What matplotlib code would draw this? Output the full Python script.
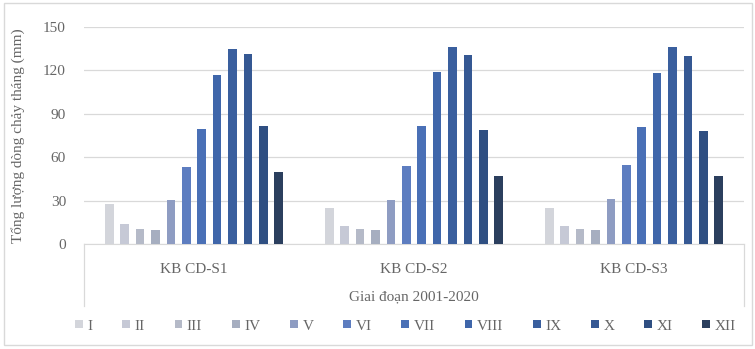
import matplotlib
matplotlib.use("Agg")
import matplotlib.pyplot as plt
from matplotlib.patches import Rectangle
import numpy as np

plt.rcParams['font.family'] = ['Liberation Serif', 'DejaVu Serif']

stations = ["KB CD-S1", "KB CD-S2", "KB CD-S3"]
months = ["I", "II", "III", "IV", "V", "VI", "VII", "VIII", "IX", "X", "XI", "XII"]
# Monthly runoff (mm) per station, one list per month
m_I = [27.7, 24.8, 24.9]
m_II = [13.6, 12.5, 12.5]
m_III = [10.2, 10.1, 10.2]
m_IV = [9.7, 9.7, 9.7]
m_V = [30.2, 30.5, 30.9]
m_VI = [53.0, 54.2, 54.5]
m_VII = [79.8, 81.5, 80.8]
m_VIII = [116.6, 118.9, 118.4]
m_IX = [134.8, 136.4, 135.9]
m_X = [131.3, 130.6, 130.0]
m_XI = [81.5, 78.7, 78.3]
m_XII = [50.0, 47.3, 47.3]
series = [m_I, m_II, m_III, m_IV, m_V, m_VI, m_VII, m_VIII, m_IX, m_X, m_XI, m_XII]
yticks = [0, 30, 60, 90, 120, 150]

colors = ["#d3d5db", "#c6c9d6", "#b5bac8", "#a6aec0", "#8e9cc2", "#5d7dc0",
          "#4a70b6", "#3f66aa", "#3a5f9e", "#355893", "#2f4f82", "#2b3f5e"]
text_color = "#666666"
line_color = "#d9d9d9"

W, H = 755, 349
fig = plt.figure(figsize=(W / 100, H / 100), dpi=100)
fig.patch.set_facecolor("white")
# outer frame of the chart
fig.add_artist(Rectangle((4 / W, 4 / H), 748 / W, 342 / H, transform=fig.transFigure,
                         fill=False, edgecolor=line_color, linewidth=1.0))

left, right, top, bottom = 84, 744, 27, 244
ax = fig.add_axes([left / W, 1 - bottom / H, (right - left) / W, (bottom - top) / H])

x = np.arange(len(stations))
step = 0.07
width = 0.039
for i, (vals, c) in enumerate(zip(series, colors)):
    ax.bar(x + (i - 5.5) * step, vals, width, color=c, label=months[i], zorder=3)

ax.set_xlim(-0.5, 2.5)
ax.set_ylim(0, 150)
ax.set_yticks(yticks)
ax.yaxis.grid(True, color=line_color, linewidth=0.9, zorder=0)
for s in ["top", "right", "left"]:
    ax.spines[s].set_visible(False)
ax.spines["bottom"].set_color(line_color)
ax.tick_params(axis="y", length=0, labelsize=11, colors=text_color, pad=13)
ax.tick_params(axis="x", length=0, labelsize=11, colors=text_color, pad=14)
ax.set_xticks(x)
ax.set_xticklabels(stations)

# category box below the axis
depth = (306 - 244) / (bottom - top)
for xa in (0, 1):
    ax.plot([xa, xa], [0, -depth], transform=ax.transAxes, color=line_color,
            linewidth=0.9, clip_on=False)

ax.text(0.5, -(297 - 244) / (bottom - top), "Giai đoạn 2001-2020", transform=ax.transAxes,
        ha="center", va="center", fontsize=11, color=text_color)

ax.set_ylabel("Tổng lượng dòng chảy tháng (mm)", fontsize=11, color=text_color)
ax.yaxis.set_label_coords(-(84 - 25) / (right - left), 0.5)

fig.legend(loc="center", bbox_to_anchor=(0.537, 1 - 326 / H), ncol=12, frameon=False,
           fontsize=11, labelcolor=text_color, handlelength=0.5, handleheight=0.5,
           handletextpad=0.3, columnspacing=1.95)

fig.savefig("out.png", dpi=100, facecolor="white")
